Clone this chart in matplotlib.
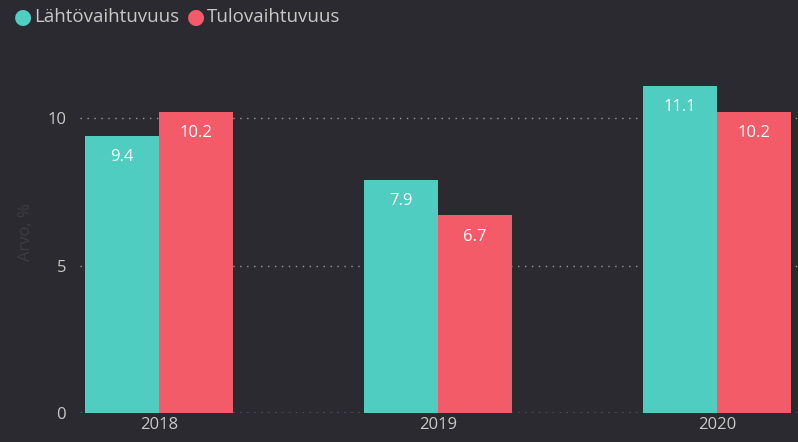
import matplotlib.pyplot as plt
import numpy as np

years = ["2018", "2019", "2020"]
lahto = [9.4, 7.9, 11.1]
tulo = [10.2, 6.7, 10.2]
series_names = ["Lähtövaihtuvuus", "Tulovaihtuvuus"]

bg = "#2b2a30"
teal = "#4ecdc0"
red = "#f45b69"
txt = "#c8c8c8"

plt.rcParams['font.family'] = ['Open Sans', 'DejaVu Sans']

fig = plt.figure(figsize=(7.98, 4.42), dpi=100, facecolor=bg)
ax = fig.add_axes([80 / 798, 29 / 442, 718 / 798, 354 / 442], facecolor=bg)

x = np.arange(len(years))
w = 0.265
b1 = ax.bar(x - w / 2, lahto, w, color=teal, zorder=3)
b2 = ax.bar(x + w / 2, tulo, w, color=red, zorder=3)

for bars, vals in [(b1, lahto), (b2, tulo)]:
    for rect, v in zip(bars, vals):
        ax.text(rect.get_x() + rect.get_width() / 2, v - 0.72, f"{v:.1f}",
                ha="center", va="center", color="white", fontsize=12, zorder=4)

ax.set_xlim(-0.283, 2.29)
ax.set_ylim(0, 12)
ax.set_yticks([0, 5, 10])
ax.set_xticks(x)
ax.set_xticklabels(years, fontsize=11.5)
ax.grid(axis="y", color="#9a9a9a", linestyle=(0, (1, 4)), linewidth=1, zorder=0)
ax.axhline(0, color="#9a9a9a", linestyle=(0, (1, 4)), linewidth=1, zorder=2)
for s in ax.spines.values():
    s.set_visible(False)
ax.tick_params(length=0, colors=txt, labelsize=12)
ax.tick_params(axis="y", pad=10)
ax.tick_params(axis="x", pad=3)
ax.set_ylabel("Arvo, %", color="#3d3c43", fontsize=12)
ax.yaxis.set_label_coords(-46 / 718, 0.51)

# legend
ly = 1 - 17 / 442
fig.text(23 / 798, ly, "●", color=teal, fontsize=15, ha="center", va="center")
fig.text(34 / 798, ly, series_names[0], color=txt, fontsize=13.5, va="center")
fig.text(196 / 798, ly, "●", color=red, fontsize=15, ha="center", va="center")
fig.text(207 / 798, ly, series_names[1], color=txt, fontsize=13.5, va="center")

fig.savefig("out.png", dpi=100, facecolor=bg)
